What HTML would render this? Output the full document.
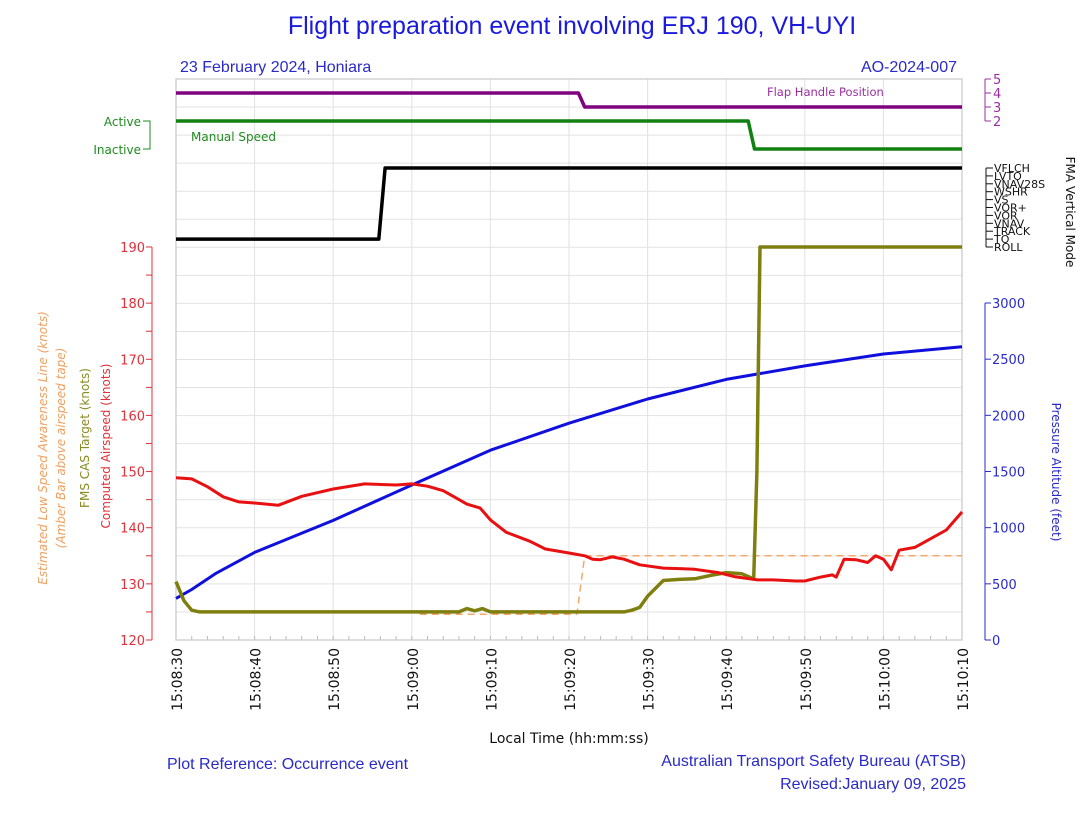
<!DOCTYPE html>
<html><head><meta charset="utf-8"><style>
body{margin:0;background:#fff;width:1090px;height:808px;overflow:hidden;font-family:"Liberation Sans",sans-serif}
svg text{font-family:"DejaVu Sans","Liberation Sans",sans-serif}
svg text.lib{font-family:"Liberation Sans","DejaVu Sans",sans-serif}
</style></head><body>
<svg id="c" width="1090" height="808" xmlns="http://www.w3.org/2000/svg">
<text class="lib" x="572" y="34" text-anchor="middle" font-size="25" fill="#1a1adc">Flight preparation event involving ERJ 190, VH-UYI</text>
<text class="lib" x="180" y="72" font-size="16" fill="#2a2ac8">23 February 2024, Honiara</text>
<text class="lib" x="957" y="72" text-anchor="end" font-size="16" fill="#2a2ac8">AO-2024-007</text>
<text class="lib" x="167" y="769" font-size="16" fill="#2a2ac8">Plot Reference: Occurrence event</text>
<text class="lib" x="966" y="766" text-anchor="end" font-size="16" fill="#2a2ac8">Australian Transport Safety Bureau (ATSB)</text>
<text class="lib" x="966" y="789" text-anchor="end" font-size="16" fill="#2a2ac8">Revised:January 09, 2025</text>
<text x="569" y="743" text-anchor="middle" font-size="14" fill="#111">Local Time (hh:mm:ss)</text>
<g id="g"></g>
</svg>
<script>
const timeTicks=["15:08:30","15:08:40","15:08:50","15:09:00","15:09:10","15:09:20","15:09:30","15:09:40","15:09:50","15:10:00","15:10:10"];
const casT=[0,2,4,6,8,10,13,16,20,24,28,30,32,34,36,37,38.7,40,42,45,47,50,52,53,54,55.5,57,59,62,64.5,66,69,71,74,76,78.8,80,82,83.5,84,85,86.5,88,89,90,91,92,94,95.7,98,100];
const casV=[148.9,148.7,147.3,145.5,144.6,144.4,144,145.6,146.9,147.8,147.6,147.8,147.4,146.6,145,144.2,143.5,141.4,139.2,137.6,136.2,135.5,135,134.4,134.3,134.8,134.4,133.4,132.8,132.7,132.6,132,131.3,130.7,130.7,130.5,130.5,131.2,131.6,131.2,134.4,134.3,133.8,135,134.4,132.5,136,136.5,137.8,139.6,142.8,145.3];
const fmsT=[0,1,2,3,36,37,38,39,40,57,58,59,60,62,64,66,68,70,72,73.5,73.9,74.3,100];
const fmsV=[130.4,127,125.3,125,125,125.6,125.2,125.6,125,125,125.3,125.8,127.8,130.6,130.8,130.9,131.5,132,131.8,130.9,150,190,190];
const lsaT=[31,51,52,100];
const lsaV=[124.6,124.6,135,135];
const altT=[0,2,5,10,20,30,40,50,60,70,80,90,100];
const altV=[370,450,590,780,1065,1380,1690,1930,2145,2320,2440,2546,2610];
const flapT=[0,51.2,52,100];const flapV=[4,4,3,3];
const msT=[0,72.8,73.6,100];const msV=[1,1,0,0];
const fmaT=[0,25.8,26.6,100];const fmaV=[1,1,10,10];
const fmaModes=["ROLL","TO","TRACK","VNAV","VOR","VOR+","VS","WSHR","VNAV28S","LVTO","VFLCH"];
const casTicks=[120,130,140,150,160,170,180,190];
const altTicks=[0,500,1000,1500,2000,2500,3000];
const flapTicks=[2,3,4,5];

const X0=176,X1=962,YB=640,YT=79;
const xs=t=>X0+(X1-X0)*t/100;
const yk=k=>640-(k-120)*(393/70);
const ya=a=>640-a*(337/3000);
const yf=f=>121-(f-2)*14;
const ym=m=>149-m*28;
const yv=v=>247-v*7.9;
const NS='http://www.w3.org/2000/svg';
const g=document.getElementById('g');
function mk(tag,at,parent){const e=document.createElementNS(NS,tag);for(const k in at)e.setAttribute(k,at[k]);(parent||g).appendChild(e);return e;}
for(let i=0;i<=20;i++){const y=YB-i*(YB-YT)/20;const l=mk('line',{x1:X0,x2:X1,y1:y,y2:y,stroke:'#e2e2e2','stroke-width':1});

}
timeTicks.forEach((s,i)=>{const x=xs(i*10);const l=mk('line',{x1:x,x2:x,y1:YT,y2:YB,stroke:'#e2e2e2','stroke-width':1});


const t=mk('text',{x:0,y:0,transform:`translate(${x+6},648) rotate(-90)`,'text-anchor':'end','font-size':14,fill:'#111'});t.textContent=s;

});
for(let i=0;i<=50;i++){const x=xs(i*2);mk('line',{x1:x,x2:x,y1:YB,y2:YB-4,stroke:'#bbb'});}
const fr=mk('rect',{x:X0,y:YT,width:X1-X0,height:YB-YT,fill:'none',stroke:'#c8c8c8','stroke-width':1.2});


const red='#e0303a';
mk('line',{x1:152,x2:152,y1:yk(190),y2:yk(120),stroke:red,'stroke-width':1});
for(let k=120;k<=190;k+=5){mk('line',{x1:146,x2:152,y1:yk(k),y2:yk(k),stroke:red});}
casTicks.forEach(k=>{const t=mk('text',{x:145,y:yk(k)+5,'text-anchor':'end','font-size':13,fill:red});t.textContent=k;

});
function vt(txt,x,y,col,name,rot){const t=mk('text',{x:0,y:0,transform:`translate(${x},${y}) rotate(${rot||-90})`,'text-anchor':'middle','font-size':12,fill:col,'font-style':name==='lsa-axis-title'||name==='lsa-axis-subtitle'?'italic':'normal'});t.textContent=txt;

}
vt('Computed Airspeed (knots)',110,446,red,'cas-axis-title');
vt('FMS CAS Target (knots)',89,438,'#8a8a20','fms-axis-title');
vt('Estimated Low Speed Awareness Line (knots)',47,448,'#f0a060','lsa-axis-title');
vt('(Amber Bar above airspeed tape)',65,448,'#f0a060','lsa-axis-subtitle');
const blue='#2a2acc';
mk('line',{x1:985,x2:985,y1:ya(3000),y2:ya(0),stroke:blue});
altTicks.forEach(a=>{mk('line',{x1:985,x2:991,y1:ya(a),y2:ya(a),stroke:blue});const t=mk('text',{x:992,y:ya(a)+5,'font-size':13,fill:blue});t.textContent=a;

});
vt('Pressure Altitude (feet)',1052,472,blue,'altitude-axis-title',90);
const pur='#9a30a0';
mk('line',{x1:985,x2:985,y1:yf(5),y2:yf(2),stroke:pur});
flapTicks.forEach(f=>{mk('line',{x1:985,x2:991,y1:yf(f),y2:yf(f),stroke:pur});const t=mk('text',{x:993,y:yf(f)+5,'font-size':13,fill:pur});t.textContent=f;

});
const grn='#208a20';
mk('path',{d:`M143 ${ym(1)}H150V${ym(0)}H143`,fill:'none',stroke:grn});
[['Active',1],['Inactive',0]].forEach(([s,v])=>{const t=mk('text',{x:141,y:ym(v)+5,'text-anchor':'end','font-size':12,fill:grn});t.textContent=s;

});
mk('line',{x1:986,x2:986,y1:yv(10),y2:yv(0),stroke:'#111'});
fmaModes.forEach((m,i)=>{mk('line',{x1:986,x2:993,y1:yv(i),y2:yv(i),stroke:'#111'});const t=mk('text',{x:994,y:yv(i)+4,'font-size':11,fill:'#111'});t.textContent=m;

});
vt('FMA Vertical Mode',1066,212,'#111','fma-axis-title',90);
function line(T,V,fy,col,w,name,dash){const d=T.map((t,i)=>(i?'L':'M')+xs(t).toFixed(1)+' '+fy(V[i]).toFixed(1)).join('');const p=mk('path',{d:d,fill:'none',stroke:col,'stroke-width':w,'stroke-linejoin':'round'});if(dash)p.setAttribute('stroke-dasharray',dash);

}
line(lsaT,lsaV,yk,'#f4a868',1.5,'low-speed-awareness-line','7,5');
line(altT,altV,ya,'#1010dd',3,'altitude-line');
line(fmsT,fmsV,yk,'#7f7f10',3.5,'fms-cas-target-line');
line(casT,casV,yk,'#e81010',3,'computed-airspeed-line');
line(flapT,flapV,yf,'#800080',3.5,'flap-handle-line');
line(msT,msV,ym,'#108010',3.5,'manual-speed-line');
line(fmaT,fmaV,yv,'#000',3.5,'fma-vertical-mode-line');
const l1=mk('text',{x:767,y:96,'font-size':11.5,fill:pur});l1.textContent='Flap Handle Position';


const l2=mk('text',{x:191,y:141,'font-size':12,fill:grn});l2.textContent='Manual Speed';


</script>
</body></html>
